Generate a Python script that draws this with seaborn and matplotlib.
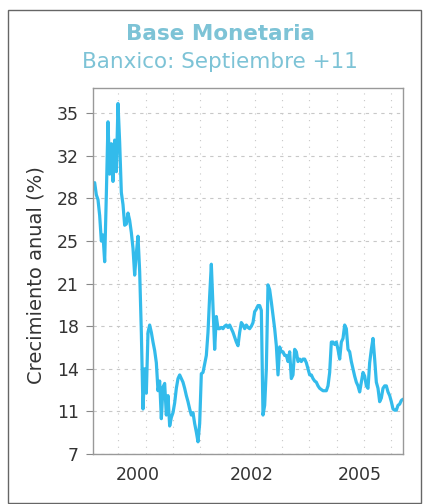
import numpy as np
import pandas as pd
import seaborn as sns
import matplotlib.pyplot as plt
from matplotlib.patches import Rectangle

# ---- data ----
crecimiento = [
    29.1, 29.3, 28.3, 27.9, 26.6, 24.5, 25.0, 22.8, 28.3, 34.3,
    30.0, 32.5, 29.4, 32.8, 30.2, 35.8, 32.6, 28.5, 27.5, 25.8,
    25.9, 26.8, 26.2, 25.2, 23.9, 21.7, 23.5, 24.9, 22.0, 17.0,
    10.7, 14.0, 12.0, 17.0, 17.6, 17.0, 16.2, 15.5, 14.5, 12.2,
    13.0, 9.9, 12.5, 12.8, 10.2, 11.8, 9.3, 10.0, 10.4, 11.2,
    12.4, 13.2, 13.5, 13.2, 12.9, 12.4, 11.8, 11.3, 10.7, 10.2,
    10.4, 9.5, 8.8, 8.0, 9.5, 13.6, 13.7, 14.4, 15.1, 17.0,
    20.0, 22.6, 19.0, 15.6, 18.3, 17.3, 17.3, 17.4, 17.3, 17.5,
    17.6, 17.4, 17.6, 17.3, 17.0, 16.6, 16.2, 15.9, 17.0, 17.8,
    17.6, 17.3, 17.6, 17.4, 17.3, 17.5, 17.8, 18.7, 18.9, 19.2,
    19.2, 18.8, 10.2, 11.0, 14.0, 20.9, 20.5, 19.5, 18.4, 17.3,
    15.9, 13.5, 15.8, 15.4, 15.4, 15.1, 15.1, 14.6, 15.4, 13.2,
    13.5, 15.6, 15.4, 14.6, 14.8, 14.6, 14.8, 14.8, 14.5, 14.0,
    13.5, 13.5, 13.2, 13.0, 12.9, 12.6, 12.4, 12.3, 12.2, 12.2,
    12.2, 12.6, 13.7, 16.2, 16.2, 16.0, 16.2, 15.6, 14.8, 16.2,
    16.5, 17.6, 17.3, 15.6, 15.4, 14.6, 14.0, 13.4, 12.9, 12.6,
    12.1, 12.9, 13.7, 13.4, 12.6, 12.4, 14.5, 15.6, 16.5, 14.8,
    12.9, 12.4, 11.3, 11.6, 12.4, 12.6, 12.6, 12.1, 11.8, 11.3,
    10.7, 10.6, 10.6, 11.0, 11.1, 11.4, 11.5,
]
fecha_inicio, fecha_fin = 1999.0, 2005.72
fecha = np.linspace(fecha_inicio, fecha_fin, len(crecimiento))

y_ticks = [7, 10.5, 14, 17.5, 21, 24.5, 28, 31.5, 35]
y_labels = ["7", "11", "14", "18", "21", "25", "28", "32", "35"]
x_ticks = [1999.975, 2002.447, 2004.788]
x_labels = ["2000", "2002", "2005"]

titulo = "Base Monetaria"
subtitulo = "Banxico: Septiembre +11"
ylabel = "Crecimiento anual (%)"

df = pd.DataFrame({"fecha": fecha, "crecimiento": crecimiento})

# ---- style ----
sns.set_theme(style="white")
plt.rcParams["font.family"] = ["DejaVu Sans"]

W, H = 424, 504
fig = plt.figure(figsize=(W / 100, H / 100), dpi=100)
fig.patch.set_facecolor("white")

left, right, top, bottom = 93, 403, 88, 454
ax = fig.add_axes([left / W, 1 - bottom / H, (right - left) / W, (bottom - top) / H])
ax.set_facecolor("white")

sns.lineplot(data=df, x="fecha", y="crecimiento", ax=ax,
             color="#33bbeb", linewidth=2.3)

ax.set_xlim(fecha_inicio, fecha_fin)
ax.set_ylim(7, 37.08)

ax.set_yticks(y_ticks)
ax.set_yticklabels(y_labels)
ax.set_xticks(x_ticks)
ax.set_xticklabels(x_labels)

# minor vertical grid positions
minor_x = 1999.548 + 0.5918 * np.arange(11)
ax.set_xticks(minor_x, minor=True)

ax.grid(False)
ax.yaxis.grid(True, which="major", color="#c8c8c8", linestyle=(0, (3, 4)), linewidth=0.8)
ax.xaxis.grid(True, which="minor", color="#c8c8c8", linestyle=(0, (1, 5)), linewidth=0.8)

ax.tick_params(axis="y", which="major", length=5, width=0.8, color="#888888",
               labelsize=12.5, labelcolor="#333333", pad=5, left=True)
ax.tick_params(axis="x", which="both", length=0, labelsize=12.5,
               labelcolor="#333333", pad=9)

for s in ax.spines.values():
    s.set_color("#999999")
    s.set_linewidth(1.0)

ax.set_xlabel("")
ax.set_ylabel("")

fig.text(36 / W, 1 - 275 / H, ylabel, rotation=90, ha="center", va="center",
         fontsize=14, color="#333333")

fig.text(221 / W, 1 - 34 / H, titulo, ha="center", va="center",
         fontsize=15.5, fontweight="bold", color="#7dc3d6")
fig.text(220 / W, 1 - 62 / H, subtitulo, ha="center", va="center",
         fontsize=15.5, color="#7dc3d6")

fig.patches.append(Rectangle((8 / W, 1 - 503 / H), (421 - 8) / W, (503 - 10) / H,
                             transform=fig.transFigure, fill=False,
                             edgecolor="#666666", linewidth=1.0))

fig.savefig("out.png", dpi=100)
